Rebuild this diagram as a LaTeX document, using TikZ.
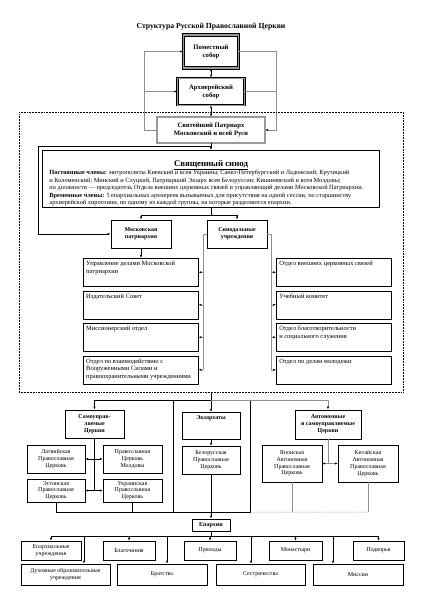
\documentclass[tikz,border=0pt]{standalone}
\usepackage{fontspec}
\setmainfont{Liberation Serif}
\usepackage{tikz}
\usepackage{xcolor}
\definecolor{lineGray}{HTML}{8F8F8F}
\definecolor{frameGray}{HTML}{9A9A9A}
\usetikzlibrary{arrows.meta}

\tikzset{
  link/.style={line width=0.7pt},
  gline/.style={draw=lineGray, line width=0.7pt},
  plainbox/.style={draw, line width=0.7pt, inner sep=1pt, align=center,
    font=\fontsize{8.5}{9.6}\selectfont},
  boldbox/.style={draw, line width=1.4pt, inner sep=1pt, align=center,
    font=\fontsize{8.5}{10}\selectfont\bfseries},
  soborbox/.style={draw, align=center, font=\fontsize{9.5}{11.5}\selectfont\bfseries},
  colbox/.style={draw, line width=0.7pt, anchor=north west, inner xsep=1.5mm,
    inner ysep=1.5mm, font=\fontsize{9.2}{10.6}\selectfont,
    execute at begin node={\begin{minipage}[c][11mm][t]{54.5mm}\raggedright},
    execute at end node={\end{minipage}}}
}

\begin{document}
\begin{tikzpicture}[x=0.5mm, y=-0.5mm, >={Latex[length=4pt,width=3pt,color=black]}]
  \useasboundingbox (0,0) rectangle (423,600);

  \node[font=\fontsize{11}{13}\selectfont\bfseries] (title) at (211,27) {Структура Русской Православной Церкви};

  % соборы и Патриарх
  \node[soborbox, line width=0.9pt, double=frameGray, double distance=2.6pt,
    minimum width=27.5mm, minimum height=16.5mm] (pomest) at (211,51.5) {Поместный\\собор};
  \node[soborbox, line width=1.1pt, double=frameGray, double distance=0.9pt,
    minimum width=33.5mm, minimum height=13.5mm] (arhier) at (211,91.5) {Архиерейский\\собор};
  \node[soborbox, line width=0.7pt, double=frameGray, double distance=2.2pt,
    minimum width=54mm, minimum height=13mm] (patr) at (211,130) {Святейший Патриарх\\Московский и всей Руси};

  \coordinate (lbus) at (144,0);
  \coordinate (rbus) at (276,0);
  \draw[gline,->] (patr.west) -| (lbus |- pomest.west) -- (pomest.west);
  \draw[gline,->] (lbus |- arhier.west) -- (arhier.west);
  \draw[gline,->] (pomest.east) -| (rbus |- patr.east) -- (patr.east);
  \draw[gline] (arhier.east) -- (rbus |- arhier.east);
  \draw[link,<->] (pomest) -- (arhier);
  \draw[link,<->] (arhier) -- (patr);

  \node[draw, line width=1.3pt, dash pattern=on 1.1pt off 1.1pt,
    minimum width=192mm, minimum height=140mm] (council) at (211,252) {};

  % Священный синод
  \node[draw, line width=1.6pt, anchor=north, inner xsep=3.5mm, inner ysep=1mm] (synod) at (211,150) {%
    \begin{minipage}[c][26mm][b]{161.5mm}
      {\centering\fontsize{12.5}{12}\selectfont\bfseries\underline{Священный синод}\par}
      \fontsize{9}{10.6}\selectfont
      \textbf{Постоянные члены:} митрополиты Киевский и всея Украины; Санкт-Петербургский и Ладожский; Крутицкий\\
      и Коломенский; Минский и Слуцкий, Патриарший Экзарх всея Белоруссии; Кишиневский и всея Молдовы;\\
      по должности — председатель Отдела внешних церковных связей и управляющий делами Московской Патриархии.\\
      \textbf{Временные члены:} 5 епархиальных архиереев вызываемых для присутствия на одной сессии, по старшинству\\
      архиерейской хиротонии, по одному из каждой группы, на которые разделяются епархии.
    \end{minipage}};

  \node[boldbox, minimum width=30mm, minimum height=14mm] (moskp) at (141,234) {Московская\\патриархия};
  \node[boldbox, minimum width=30mm, minimum height=14mm] (sinu) at (237,234) {Синодальные\\учреждения};

  \draw[link,->] (patr) -- (synod);
  \coordinate (pbus) at (38,146);
  \draw[link,->] (patr.south |- pbus) -- (pbus) |- (moskp.west);
  \draw[link,->] (synod.south) -- ++(0,7) -| (moskp.north);
  \draw[link,->] (synod.south) ++(0,7) -| (sinu.north);

  % отделы
  \node[colbox] (upr) at (83,258) {Управление делами Московской\\патриархии};
  \node[colbox] (izd) at (83,290.5) {Издательский Совет};
  \node[colbox] (missotd) at (83,323) {Миссионерский отдел};
  \node[colbox] (vzaim) at (83,355.5) {Отдел по взаимодействию с\\Вооруженными Силами и\\правоохранительными учреждениями};
  \node[colbox] (ovcs) at (276,258) {Отдел внешних церковных связей};
  \node[colbox] (uchk) at (276,290.5) {Учебный комитет};
  \node[colbox] (blsl) at (276,323) {Отдел благотворительности\\и социального служения};
  \node[colbox] (molod) at (276,355.5) {Отдел по делам молодежи};

  \draw[link,->] (moskp.south) -- (moskp.south |- upr.north);
  \coordinate (lsb) at (203,0);
  \coordinate (rsb) at (271,0);
  \draw[gline] (sinu.west) -| (lsb |- vzaim.east);
  \draw[gline] (sinu.east) -| (rsb |- molod.west);
  \foreach \nd in {upr,izd,missotd,vzaim}
    \draw[gline,->] (lsb |- \nd.east) -- (\nd.east);
  \foreach \nd in {ovcs,uchk,blsl,molod}
    \draw[gline,->] (rsb |- \nd.west) -- (\nd.west);

  % церкви
  \node[boldbox, minimum width=29.5mm, minimum height=14mm] (samo) at (94.5,424) {Самоуправ-\\ляемые\\Церкви};
  \node[boldbox, anchor=north, minimum width=29mm, inner ysep=1mm, text height=2.6mm, text depth=8.9mm] (ekz) at (211,412) {Экзархаты};
  \node[boldbox, minimum width=33mm, minimum height=14.5mm] (avt) at (328,424.5) {Автономные\\и самоуправляемые\\Церкви};
  \node[draw, line width=0.7pt, minimum width=38.5mm, minimum height=56mm] (ekzgrp) at (211.5,456) {};

  \node[plainbox, minimum width=29mm, minimum height=14mm] (latv) at (56,459) {Латвийская\\Православная\\Церковь};
  \node[plainbox, minimum width=29.5mm, minimum height=14mm] (mold) at (132.5,459) {Православная\\Церковь\\Молдовы};
  \node[plainbox, minimum width=29mm, minimum height=11.5mm] (est) at (56,490.5) {Эстонская\\Православная\\Церковь};
  \node[plainbox, minimum width=29.5mm, minimum height=11.5mm] (ukr) at (132.5,490.5) {Украинская\\Православная\\Церковь};
  \node[plainbox, minimum width=29mm, minimum height=14mm] (belor) at (211,460) {Белорусская\\Православная\\Церковь};
  \node[plainbox, minimum width=30mm, minimum height=18.5mm] (jap) at (292,463.5) {Японская\\Автономная\\Православная\\Церковь};
  \node[plainbox, minimum width=30mm, minimum height=18.5mm] (chin) at (368,463.5) {Китайская\\Автономная\\Православная\\Церковь};

  \coordinate (cbus) at (211,400);
  \draw[link] (council.south) -- (cbus);
  \draw[link,->] (cbus) -| (samo.north);
  \draw[link,->] (cbus) -- (ekz.north);
  \draw[gline,->] (cbus) -| (avt.north);

  \draw[link] (samo.south) -- (samo.south |- est.east);
  \draw[link,<->] (latv) -- (mold);
  \draw[link,<->] (est) -- (ukr);
  \draw[link,->] (ekz) -- (belor);
  \draw[gline] (avt.south) -- (avt.south |- jap.east);
  \draw[gline,<->] (jap) -- (chin);

  % епархии
  \node[boldbox, minimum width=19mm, minimum height=6mm] (eparh) at (211,525) {Епархии};

  \coordinate (ebus) at (0,512);
  \draw[link] (est.south) |- (ekzgrp.south west);
  \draw[link] (ukr.south) -- (ukr.south |- ebus);
  \draw[gline] (jap.south) -- (jap.south |- ebus);
  \draw[gline] (chin.south) -- (chin.south |- ebus);
  \draw[gline, dash pattern=on 1pt off 1pt] (ekzgrp.south east) -- (chin.south |- ebus);
  \draw[link,->] (belor) -- (eparh);

  \node[plainbox, minimum width=30mm, minimum height=9.5mm] (eu) at (51,550.5) {Епархиальные\\учреждения};
  \node[plainbox, minimum width=26mm, minimum height=9.5mm] (blch) at (129,550.5) {Благочиния};
  \node[plainbox, minimum width=26mm, minimum height=9.5mm] (prih) at (210,550.5) {Приходы};
  \node[plainbox, minimum width=26.5mm, minimum height=9.5mm] (mon) at (295.5,550.5) {Монастыри};
  \node[plainbox, minimum width=25.5mm, minimum height=9.5mm] (pod) at (378.5,550.5) {Подворья};
  \node[plainbox, minimum width=44.5mm, minimum height=10.5mm] (duh) at (65.5,574.5) {Духовные образовательные\\учреждения};
  \node[plainbox, minimum width=45mm, minimum height=10.5mm] (brat) at (162,574.5) {Братства};
  \node[plainbox, minimum width=44.5mm, minimum height=10.5mm] (sest) at (260.5,574.5) {Сестричества};
  \node[plainbox, minimum width=45mm, minimum height=10.5mm] (missii) at (358,574.5) {Миссии};

  \coordinate (dbus) at (0,536);
  \draw[link] (eparh.south) -- (eparh.south |- dbus);
  \draw[link] (eu.north |- dbus) -- (pod.north |- dbus);
  \foreach \nd in {eu,blch,prih,mon,pod}
    \draw[link,->] (\nd.north |- dbus) -- (\nd.north);
  \foreach \x/\nd in {84/duh,167/brat,251/sest,333/missii} {
    \coordinate (tap) at (\x,536);
    \draw[link,->] (tap) -- (tap |- \nd.north);
  }
\end{tikzpicture}
\end{document}
